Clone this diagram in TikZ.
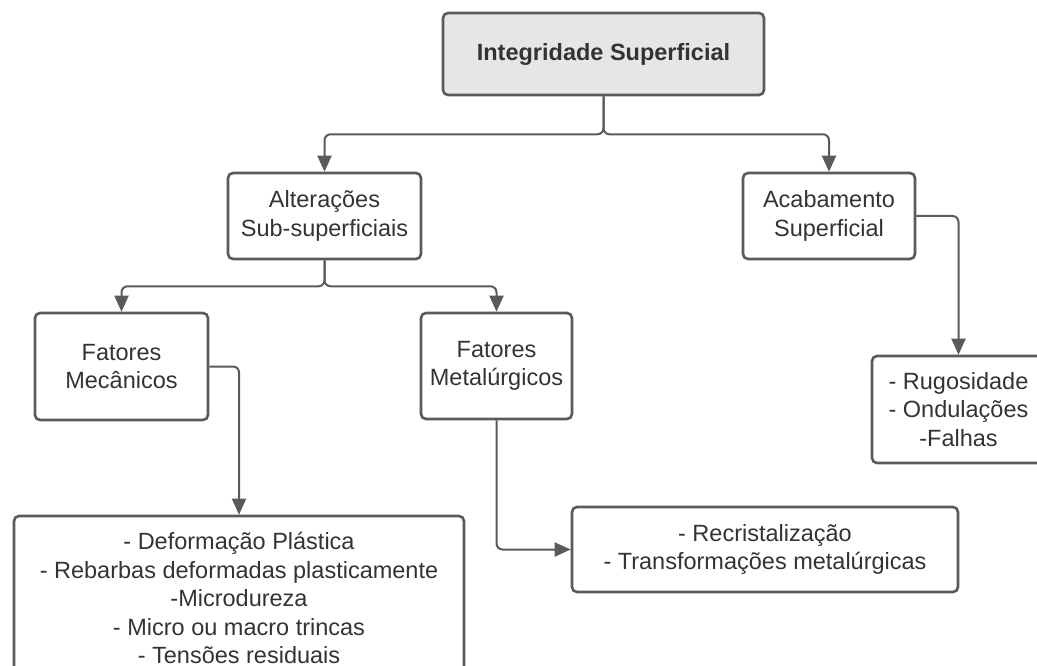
\documentclass[tikz,border=0pt]{standalone}
\usepackage{fontspec}
\setmainfont{Liberation Sans}
\usetikzlibrary{arrows.meta,positioning}
\definecolor{boxline}{HTML}{5A5A5A}
\definecolor{boxtext}{HTML}{333333}
\definecolor{rootfill}{HTML}{E6E6E6}
\tikzstyle{block}=[rectangle,rounded corners=5pt,draw=boxline,line width=2.6pt,
text=boxtext,inner sep=3pt,align=center]
\tikzstyle{root}=[block,fill=rootfill,font=\fontsize{23.5}{28.5}\selectfont\bfseries]
\tikzstyle{link}=[draw=boxline,line width=2pt,->,rounded corners=6pt]

\begin{document}
\begin{tikzpicture}[x=1pt,y=-1pt,>={Triangle[length=16pt,width=14pt]},
    font=\fontsize{23.5}{28.5}\selectfont]
    \clip (0,0) rectangle (1037,666);

    \node[root,minimum width=321pt,minimum height=82pt](integ) at (603.5,54){Integridade Superficial};
    \node[block,minimum width=193pt,minimum height=86pt](alter) at (324.5,216){Altera\c{c}\~oes \\ Sub-superficiais};
    \node[block,minimum width=172pt,minimum height=86pt](acab) at (829,216){Acabamento \\ Superficial};
    \node[block,minimum width=173pt,minimum height=107pt](mecan) at (121.5,366.5){Fatores \\ Mec\^anicos};
    \node[block,minimum width=151pt,minimum height=106pt](metal) at (496.5,366){Fatores \\ Metal\'urgicos};
    \node[block,minimum width=173pt,minimum height=107pt](rugos) at (958.5,409.5){- Rugosidade \\ - Ondula\c{c}\~oes \\ -Falhas};
    \node[block,minimum width=450pt,minimum height=164pt](deform) at (239,598){- Deforma\c{c}\~ao Pl\'astica \\
      - Rebarbas deformadas plasticamente \\ -Microdureza \\ - Micro ou macro trincas \\ - Tens\~oes residuais};
    \node[block,minimum width=386pt,minimum height=85pt](recris) at (765,549.5){- Recristaliza\c{c}\~ao \\
      - Transforma\c{c}\~oes metal\'urgicas};

    % connectors
    \draw[link] (integ.south) -- ++(0,38) -| (alter.north);
    \draw[link] (integ.south) -- ++(0,38) -| (acab.north);
    \draw[link] (alter.south) -- ++(0,26) -| (mecan.north);
    \draw[link] (alter.south) -- ++(0,26) -| (metal.north);
    \draw[link] (mecan.east) -| (deform.north);
    \draw[link] (metal.south) |- (recris.west);
    \draw[link] (acab.east) -| (rugos.north);
\end{tikzpicture}
\end{document}
